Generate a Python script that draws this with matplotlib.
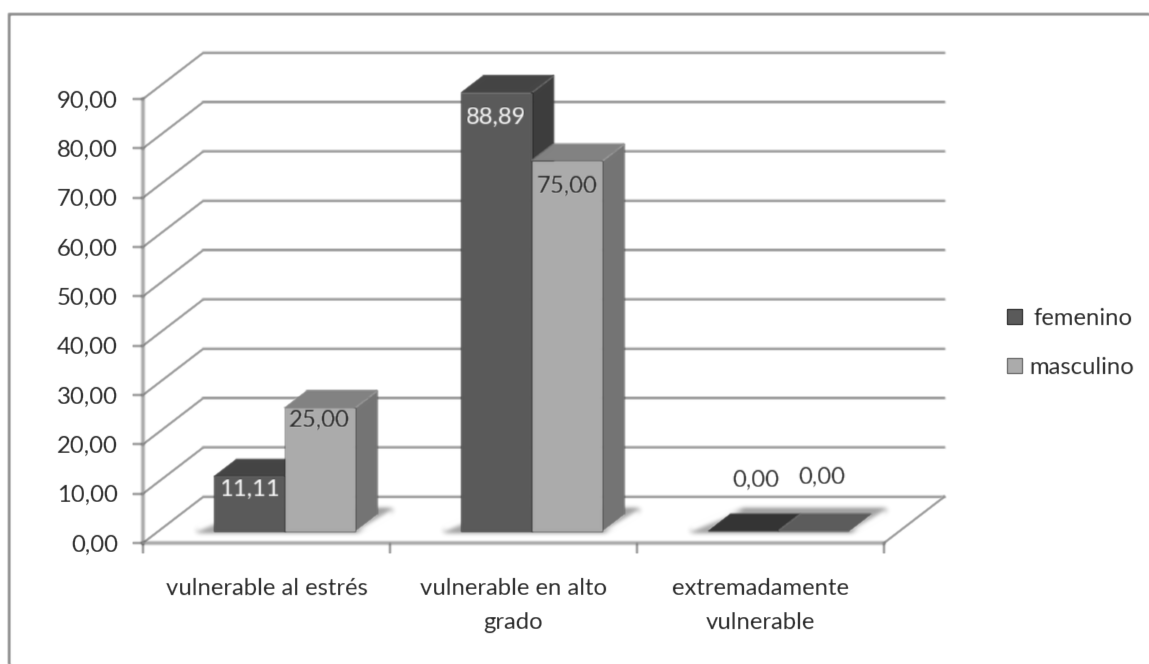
import numpy as np
import matplotlib
matplotlib.use("Agg")
import matplotlib.pyplot as plt
from matplotlib.patches import Polygon, Patch, Rectangle

categories = ["vulnerable al estrés", "vulnerable en alto\ngrado", "extremadamente\nvulnerable"]
series_names = ["femenino", "masculino"]
femenino = [11.11, 88.89, 0.00]
masculino = [25.00, 75.00, 0.00]
y_ticks = [0, 10, 20, 30, 40, 50, 60, 70, 80, 90]

W, H = 1149, 664
PX_X0, PX_X1, PX_Y0, PX_Y90 = 143, 884, 543, 99
PX_PER_CAT = (PX_X1 - PX_X0) / 3
PX_PER_UNIT = (PX_Y0 - PX_Y90) / 90
DX = 60 / PX_PER_CAT      # depth vector in data units
DV = 46 / PX_PER_UNIT
BAR_START = 0.225
BAR_W = 0.285
D_FRONT, D_BACK = 0.26, 0.63
FS = 17.2

FRONT = ["#5a5a5a", "#ababab"]
TOP = ["#444444", "#828282"]
SIDE = ["#3d3d3d", "#747474"]
ZERO = ["#343434", "#5c5c5c"]
GRID = "#949494"
TEXT = "#222222"

plt.rcParams["font.family"] = ["Lato", "DejaVu Sans"]


def blur(sigma):
    r = int(3 * sigma) + 1
    k = np.exp(-0.5 * (np.arange(-r, r + 1) / sigma) ** 2)
    k /= k.sum()

    def f(im, dpi):
        pad = np.pad(im, ((r, r), (r, r), (0, 0)))
        out = np.apply_along_axis(lambda m: np.convolve(m, k, mode="same"), 0, pad)
        out = np.apply_along_axis(lambda m: np.convolve(m, k, mode="same"), 1, out)
        return out, -r, -r
    return f


SOFT = blur(0.7)
SOFT_TEXT = blur(0.5)

fig = plt.figure(figsize=(W / 100, H / 100), dpi=100, facecolor="white")
ax = fig.add_axes([PX_X0 / W, 1 - PX_Y0 / H, (PX_X1 - PX_X0) / W, (PX_Y0 - PX_Y90) / H])
ax.set_xlim(0, 3)
ax.set_ylim(0, 90)
ax.patch.set_visible(False)


def pt(x, d, v):
    return (x + d * DX, v + d * DV)


def poly(points, color, z, ec=None, filt=SOFT, **kw):
    p = Polygon(points, closed=True, facecolor=color, edgecolor=ec or color, lw=0.6,
                zorder=z, clip_on=False, **kw)
    ax.add_patch(p)
    p.set_agg_filter(filt)
    return p


# walls and floor
for v in y_ticks:
    a, b, c = pt(0, 0, v), pt(0, 1, v), pt(3, 1, v)
    ln, = ax.plot([a[0], b[0], c[0]], [a[1], b[1], c[1]], color=GRID, lw=1.7, clip_on=False, zorder=1)
    ln.set_agg_filter(SOFT)
a, b = pt(3, 0, 0), pt(3, 1, 0)
ln, = ax.plot([a[0], b[0]], [a[1], b[1]], color=GRID, lw=1.7, clip_on=False, zorder=1)
ln.set_agg_filter(SOFT)

# bars
groups = [femenino, masculino]
z = 3
for i in range(len(categories)):
    # floor shadow
    x0 = i + BAR_START
    x1 = x0 + 2 * BAR_W
    poly([pt(x0 - 0.07, D_FRONT, 0), pt(x1 + 0.01, D_FRONT, 0),
          pt(x1 + 0.04, D_BACK + 0.09, 0), pt(x0 + 0.03, D_BACK + 0.09, 0)],
         "#a6a6a6", 2, filt=blur(2.5))
    for j, vals in enumerate(groups):
        v = vals[i]
        x0 = i + BAR_START + j * BAR_W
        x1 = x0 + BAR_W
        if v > 0:
            poly([pt(x1, D_FRONT, 0), pt(x1, D_BACK, 0), pt(x1, D_BACK, v), pt(x1, D_FRONT, v)], SIDE[j], z)
            poly([pt(x0, D_FRONT, v), pt(x1, D_FRONT, v), pt(x1, D_BACK, v), pt(x0, D_BACK, v)], TOP[j], z + 1)
            poly([pt(x0, D_FRONT, 0), pt(x1, D_FRONT, 0), pt(x1, D_FRONT, v), pt(x0, D_FRONT, v)], FRONT[j], z + 2)
        else:
            poly([pt(x0, D_FRONT, 0), pt(x1, D_FRONT, 0), pt(x1, D_BACK, 0), pt(x0, D_BACK, 0)], ZERO[j], z + 2)
        z += 3

# data labels
label_style = [
    [(0.0, -13, "white"), (0.0, -13, TEXT)],
    [(0.0, -25, "white"), (0.0, -25, TEXT)],
    [(12.0, 51, TEXT), (8.0, 54, TEXT)],
]
for i in range(len(categories)):
    for j, vals in enumerate(groups):
        v = vals[i]
        xc, yc = pt(i + BAR_START + (j + 0.5) * BAR_W, D_FRONT, v)
        dx, dy, col = label_style[i][j]
        t = ax.annotate(f"{v:.2f}".replace(".", ","), (xc, yc), xytext=(dx * 0.72, dy * 0.72),
                        textcoords="offset points", ha="center", va="center",
                        fontsize=FS, color=col, zorder=100, annotation_clip=False)
        t.set_agg_filter(SOFT_TEXT)

# axes
for s in ["top", "right"]:
    ax.spines[s].set_visible(False)
for s in ["left", "bottom"]:
    ax.spines[s].set_color(GRID)
    ax.spines[s].set_linewidth(1.7)
    ax.spines[s].set_agg_filter(SOFT)
ax.set_yticks(y_ticks, [f"{v:.2f}".replace(".", ",") for v in y_ticks])
ax.set_xticks(range(4), [""] * 4)
ax.set_xticks([0.5, 1.5, 2.5], categories, minor=True)
ax.tick_params(axis="y", length=7, width=1.5, color=GRID, labelsize=FS, labelcolor=TEXT, pad=11)
ax.tick_params(axis="x", which="major", length=7, width=1.5, color=GRID)
ax.tick_params(axis="x", which="minor", length=0, labelsize=FS, labelcolor=TEXT, pad=25.5)
for lab in ax.get_yticklabels() + ax.get_xticklabels(minor=True):
    lab.set_agg_filter(SOFT_TEXT)
    lab.set_linespacing(1.72)
for tick in ax.xaxis.get_major_ticks() + ax.yaxis.get_major_ticks():
    tick.tick1line.set_agg_filter(SOFT)

# legend
handles = [Patch(facecolor=FRONT[k], edgecolor=SIDE[k]) for k in range(2)]
leg = fig.legend(handles, series_names, loc="center left", bbox_to_anchor=(1007 / W, 1 - 343 / H),
                 frameon=False, fontsize=FS, labelcolor=TEXT, handlelength=0.62, handleheight=0.62,
                 handletextpad=0.3, labelspacing=1.18, borderpad=0, borderaxespad=0)
for t in leg.get_texts():
    t.set_agg_filter(SOFT_TEXT)
leg.get_texts()[0].set_x(5)

# chart frame (runs off the right and bottom of the picture)
fig.add_artist(Rectangle((9 / W, -20 / H), (W + 20 - 9) / W, (H + 20 - 14) / H, transform=fig.transFigure,
                         fill=False, edgecolor="#858585", lw=1.8, zorder=0)).set_agg_filter(SOFT)

fig.savefig("out.png", dpi=100, facecolor="white")
